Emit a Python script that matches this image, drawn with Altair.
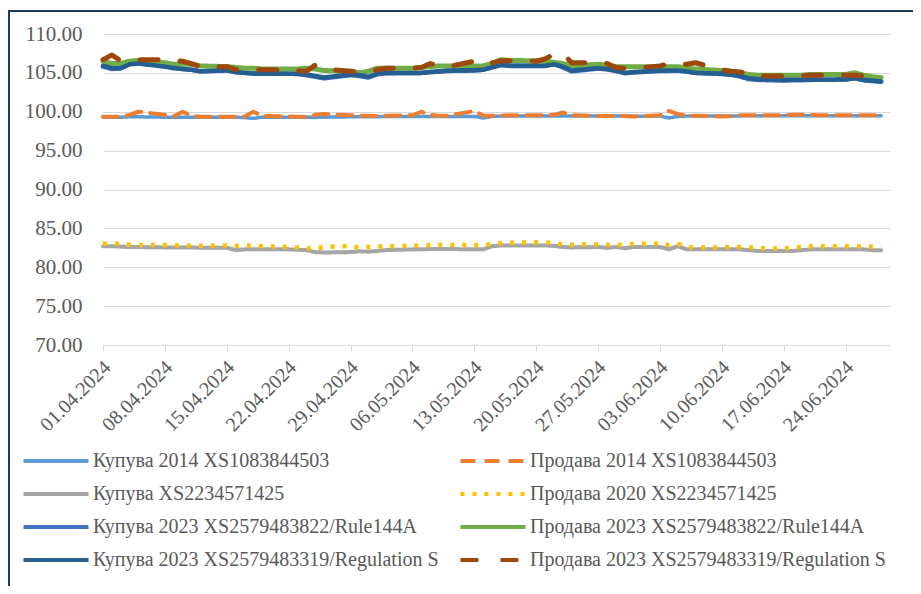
import altair as alt
import pandas as pd

# ---------------- data ----------------
dates = [
    "2024-04-01", "2024-04-02", "2024-04-03", "2024-04-04", "2024-04-05",
    "2024-04-08", "2024-04-09", "2024-04-10", "2024-04-11", "2024-04-12",
    "2024-04-15", "2024-04-16", "2024-04-17", "2024-04-18", "2024-04-19",
    "2024-04-22", "2024-04-23", "2024-04-24", "2024-04-25", "2024-04-26",
    "2024-04-29", "2024-04-30",
    "2024-05-01", "2024-05-02", "2024-05-03",
    "2024-05-06", "2024-05-07", "2024-05-08", "2024-05-09", "2024-05-10",
    "2024-05-13", "2024-05-14", "2024-05-15", "2024-05-16", "2024-05-17",
    "2024-05-20", "2024-05-21", "2024-05-22", "2024-05-23", "2024-05-24",
    "2024-05-27", "2024-05-28", "2024-05-29", "2024-05-30", "2024-05-31",
    "2024-06-03", "2024-06-04", "2024-06-05", "2024-06-06", "2024-06-07",
    "2024-06-10", "2024-06-11", "2024-06-12", "2024-06-13", "2024-06-14",
    "2024-06-17", "2024-06-18", "2024-06-19", "2024-06-20", "2024-06-21",
    "2024-06-24", "2024-06-25", "2024-06-26", "2024-06-27", "2024-06-28",
]

buy_2014 = [
    99.3, 99.3, 99.3, 99.35, 99.35, 99.3, 99.3, 99.3, 99.3, 99.3, 99.3, 99.3, 99.25, 99.15, 99.3,
    99.3, 99.3, 99.3, 99.3, 99.3, 99.35, 99.35,
    99.35, 99.35, 99.4, 99.4, 99.4, 99.4, 99.4, 99.4, 99.4, 99.2, 99.4, 99.45, 99.45, 99.45,
    99.45, 99.45, 99.45, 99.45, 99.45, 99.45, 99.45, 99.45, 99.4,
    99.45, 99.2, 99.4, 99.45, 99.45, 99.45, 99.45, 99.45, 99.5, 99.5, 99.5, 99.5, 99.5, 99.5,
    99.5, 99.5, 99.5, 99.5, 99.5, 99.5,
]
sell_2014 = [
    99.35, 99.35, 99.35, 99.6, 100.0, 99.6, 99.4, 100.0, 99.5, 99.35, 99.35, 99.35, 99.4, 100.0,
    99.45, 99.4, 99.35, 99.3, 99.6, 99.7, 99.55, 99.5,
    99.5, 99.45, 99.5, 99.55, 100.0, 99.6, 99.5, 99.5, 100.1, 99.5, 99.5, 99.5, 99.55, 99.55,
    99.55, 99.6, 99.9, 99.55, 99.45, 99.45, 99.45, 99.45, 99.4,
    99.55, 100.1, 99.7, 99.5, 99.5, 99.4, 99.45, 99.55, 99.55, 99.55, 99.55, 99.6, 99.6, 99.6,
    99.55, 99.55, 99.55, 99.55, 99.55, 99.55,
]
buy_2234 = [
    82.7, 82.7, 82.65, 82.6, 82.6, 82.55, 82.55, 82.55, 82.55, 82.5, 82.5, 82.2, 82.3, 82.3, 82.3,
    82.3, 82.25, 82.2, 81.95, 81.9, 81.95, 82.05,
    82.0, 82.1, 82.2, 82.3, 82.3, 82.35, 82.35, 82.35, 82.3, 82.3, 82.7, 82.8, 82.8, 82.8, 82.8,
    82.75, 82.6, 82.55, 82.6, 82.5, 82.6, 82.45, 82.6,
    82.6, 82.3, 82.7, 82.3, 82.3, 82.3, 82.3, 82.3, 82.2, 82.1, 82.1, 82.1, 82.2, 82.3, 82.3,
    82.3, 82.3, 82.3, 82.2, 82.2,
]
sell_2020 = [
    83.0, 83.1, 82.95, 82.9, 82.85, 82.85, 82.8, 82.8, 82.75, 82.75, 82.8, 82.75, 82.8, 82.75,
    82.7, 82.6, 82.55, 82.45, 82.4, 82.6, 82.75, 82.5,
    82.6, 82.65, 82.7, 82.75, 82.8, 82.85, 82.85, 82.85, 82.85, 82.8, 83.0, 83.1, 83.15, 83.2,
    83.2, 83.1, 82.95, 82.9, 82.95, 82.9, 82.8, 83.0, 83.0,
    83.05, 82.85, 83.0, 82.6, 82.55, 82.55, 82.6, 82.6, 82.55, 82.45, 82.4, 82.55, 82.6, 82.7,
    82.7, 82.7, 82.7, 82.65, 82.65, 82.6,
]
buy_144a = [
    105.8, 105.5, 105.6, 106.2, 106.3, 105.9, 105.7, 105.5, 105.4, 105.2, 105.3, 105.1, 105.0,
    104.95, 104.9, 104.9, 104.85, 104.7, 104.5, 104.3, 104.7, 104.6,
    104.4, 104.8, 104.95, 105.0, 105.0, 105.1, 105.15, 105.25, 105.3, 105.4, 105.75, 106.05,
    105.95, 105.95, 105.95, 106.15, 105.7, 105.2, 105.55, 105.45, 105.25, 104.95, 105.05,
    105.25, 105.25, 105.3, 105.15, 105.0, 104.85, 104.75, 104.55, 104.2, 104.1, 104.0, 104.05,
    104.05, 104.1, 104.1, 104.15, 104.35, 104.05, 103.95, 103.85,
]
sell_144a = [
    106.5, 106.2, 106.2, 106.5, 106.6, 106.3, 106.1, 106.1, 106.1, 105.9, 105.8, 105.7, 105.6,
    105.6, 105.5, 105.5, 105.5, 105.6, 105.5, 105.3, 105.2, 105.0,
    105.2, 105.6, 105.6, 105.6, 105.7, 105.8, 105.9, 105.9, 105.9, 105.9, 106.2, 106.7, 106.6,
    106.55, 106.5, 106.35, 106.2, 105.9, 106.1, 106.0, 105.8, 105.8, 105.8,
    105.8, 105.8, 105.8, 105.6, 105.5, 105.3, 105.2, 105.0, 104.8, 104.7, 104.7, 104.7, 104.7,
    104.8, 104.8, 104.8, 105.0, 104.7, 104.5, 104.4,
]
buy_regs = [
    105.9, 105.6, 105.6, 106.1, 106.2, 105.8, 105.6, 105.5, 105.4, 105.2, 105.35, 105.1, 105.0,
    104.9, 104.9, 104.9, 104.9, 104.8, 104.6, 104.4, 104.8, 104.7,
    104.5, 104.9, 105.0, 105.0, 105.0, 105.1, 105.2, 105.3, 105.35, 105.4, 105.7, 106.0, 105.9,
    105.9, 105.9, 106.1, 105.8, 105.3, 105.6, 105.5, 105.3, 105.0, 105.1,
    105.3, 105.3, 105.3, 105.2, 105.0, 104.9, 104.8, 104.6, 104.3, 104.2, 104.1, 104.1, 104.1,
    104.1, 104.1, 104.15, 104.3, 104.1, 104.0, 103.9,
]
sell_regs = [
    106.7, 107.3, 106.55, 106.6, 106.7, 106.7, 106.6, 106.5, 106.2, 105.8, 105.8, 105.45, 105.4,
    105.4, 105.4, 105.4, 105.3, 105.2, 106.0, 105.5, 105.2, 105.1,
    105.1, 105.4, 105.6, 105.6, 105.7, 106.2, 105.9, 105.8, 106.5, 106.0, 106.3, 106.55, 106.55,
    106.5, 106.8, 107.4, 107.5, 106.3, 106.3, 106.2, 105.7, 105.6, 105.6,
    105.9, 106.2, 106.25, 106.1, 106.3, 105.4, 105.2, 105.1, 105.0, 104.6, 104.6, 104.6, 104.6,
    104.7, 104.7, 104.7, 104.7, 104.6, 104.5, 104.3,
]

# drawing order (back to front)
series_names = [
    "Купува 2014 XS1083844503",
    "Продава 2014 XS1083844503",
    "Купува XS2234571425",
    "Продава 2020 XS2234571425",
    "Купува 2023 XS2579483822/Rule144A",
    "Продава 2023 XS2579483822/Rule144A",
    "Купува 2023 XS2579483319/Regulation S",
    "Продава 2023 XS2579483319/Regulation S",
]
series_values = [buy_2014, sell_2014, buy_2234, sell_2020,
                 buy_144a, sell_144a, buy_regs, sell_regs]

y_ticks = [70, 75, 80, 85, 90, 95, 100, 105, 110]
x_tick_dates = [(4, 1), (4, 8), (4, 15), (4, 22), (4, 29), (5, 6), (5, 13),
                (5, 20), (5, 27), (6, 3), (6, 10), (6, 17), (6, 24)]

# ---------------- styles ----------------
colors = ["#5B9BD5", "#ED7D31", "#A5A5A5", "#FFC000",
          "#4472C4", "#70AD47", "#255E91", "#9E480E"]
dashes = [[1, 0], [15, 9], [1, 0], [4, 8],
          [1, 0], [1, 0], [1, 0], [18, 22]]
widths = [3.5, 4, 4, 4.5, 4.5, 5, 4.5, 5]
caps = ["round", "round", "round", "butt", "round", "round", "round", "round"]

# legend order: the legend fills column by column (buys left, sells right)
legend_order = [0, 2, 4, 6, 1, 3, 5, 7]
legend_names = [series_names[i] for i in legend_order]
legend_colors = [colors[i] for i in legend_order]
legend_dashes = [dashes[i] for i in legend_order]

rows = []
for name, vals in zip(series_names, series_values):
    for d, v in zip(dates, vals):
        rows.append({"date": d, "series": name, "value": v})
df = pd.DataFrame(rows)

FONT = "Liberation Serif"
TXT = "#595959"
GRID = "#D9D9D9"

x_enc = alt.X(
    "date:T",
    title=None,
    scale=alt.Scale(type="utc", domain=[
        alt.DateTime(year=2024, month=4, date=1, utc=True),
        alt.DateTime(year=2024, month=6, date=29, utc=True)]),
    axis=alt.Axis(
        values=[alt.DateTime(year=2024, month=m, date=d, utc=True) for m, d in x_tick_dates],
        format="%d.%m.%Y", labelAngle=-45, labelAlign="right", labelBaseline="middle",
        labelFont=FONT, labelFontSize=20, labelColor=TXT, labelPadding=13,
        labelOffset=4,
        grid=False, domainColor=GRID, domainWidth=1, tickColor=GRID, tickSize=6,
        labelOverlap=False, labelBound=False, labelFlush=False),
)
y_enc = alt.Y(
    "value:Q", title=None,
    scale=alt.Scale(domain=[70, 110], nice=False, zero=False),
    axis=alt.Axis(values=y_ticks, format=".2f", labelFont=FONT, labelFontSize=21,
                  labelColor=TXT, domain=False, ticks=False, labelPadding=21,
                  gridColor=GRID, gridWidth=1),
)
legend = alt.Legend(
    title=None, orient="none", legendX=-60, legendY=414, columns=2,
    symbolType="M-3,0H3", symbolSize=470, symbolStrokeWidth=4,
    labelFont=FONT, labelFontSize=20, labelColor=TXT, labelLimit=600,
    rowPadding=10, columnPadding=13, labelOffset=24, padding=0,
)
color_enc = alt.Color("series:N", scale=alt.Scale(domain=legend_names, range=legend_colors),
                      legend=legend)
dash_enc = alt.StrokeDash("series:N",
                          scale=alt.Scale(domain=legend_names, range=legend_dashes),
                          legend=legend)

frame = alt.Chart(pd.DataFrame({"k": [0]})).mark_rect(
    fill="transparent", stroke="#1F3864", strokeWidth=2
).encode(x=alt.value(-94), x2=alt.value(830), y=alt.value(-23), y2=alt.value(570))

layers = [frame]
for name, w, cap in zip(series_names, widths, caps):
    layers.append(
        alt.Chart(df).transform_filter(alt.datum.series == name)
        .mark_line(strokeWidth=w, strokeCap=cap, strokeJoin="round")
        .encode(x=x_enc, y=y_enc, color=color_enc, strokeDash=dash_enc)
    )

chart = alt.layer(*layers).properties(
    width=787, height=311,
    autosize=alt.AutoSizeParams(type="none"),
    padding={"left": 95, "top": 26, "right": 23, "bottom": 241},
    background="white",
).configure_view(stroke=None)

chart.save("out.html", embed_options={"renderer": "svg", "actions": False})
